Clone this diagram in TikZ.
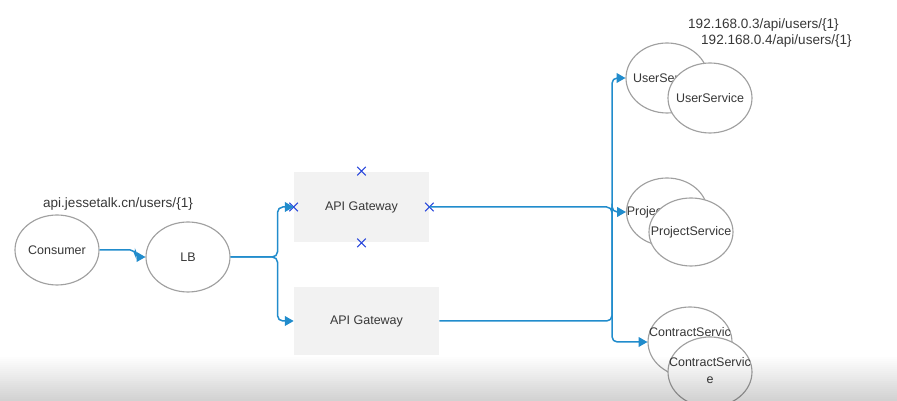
\documentclass[tikz,border=0pt]{standalone}
\usepackage{fontspec}
\setmainfont{Liberation Sans}
\usetikzlibrary{shapes.geometric,shapes.misc,arrows.meta}
\definecolor{linkblue}{RGB}{33,140,204}
\definecolor{rimgray}{RGB}{160,160,160}
\definecolor{boxgray}{RGB}{242,242,242}
\definecolor{txtgray}{RGB}{55,55,55}
\definecolor{handleblue}{RGB}{40,70,220}
% keep the ellipse from growing with its text
\newcommand\slim[1]{\makebox[0pt]{#1}}

\begin{document}
\begin{tikzpicture}[x=0.02cm,y=-0.02cm,
    every node/.style={font=\fontsize{7.1}{9.6}\selectfont,text=txtgray},
    svc/.style={ellipse,draw=rimgray,fill=white,line width=0.65pt,inner sep=0pt,minimum width=1.68cm,minimum height=1.4cm},
    gate/.style={rectangle,fill=boxgray,inner sep=0pt},
    link/.style={draw=linkblue,line width=0.85pt,rounded corners=3pt},
    tip/.style={-{Triangle[length=5pt,width=5.5pt]}},
    handle/.style={cross out,draw=handleblue,line width=0.65pt,minimum size=4.2pt,inner sep=0pt},
    url/.style={font=\fontsize{7.7}{9}\selectfont}]
    \useasboundingbox (0,0) rectangle (897,401);

    \node[svc] (con) at (57,250) {\slim{Consumer}};
    \node[svc] (lb) at (188,257) {\slim{LB}};
    \node[url] (req) at (118,204) {api.jessetalk.cn/users/\{1\}};

    \node[gate,minimum width=2.7cm,minimum height=1.42cm] (gw1) at (361.5,207) {API Gateway};
    \node[gate,minimum width=2.9cm,minimum height=1.38cm] (gw2) at (366.5,321) {API Gateway};
    \node[handle] (hn) at (gw1.north) {};
    \node[handle] (hs) at (gw1.south) {};
    \node[handle] (hw) at (gw1.west) {};
    \node[handle] (he) at (gw1.east) {};

    % services, back copy first
    \node[svc,minimum width=1.64cm] (usrA) at (667,78) {\slim{UserService}};
    \node[svc] (usrB) at (710,98) {\slim{UserService}};
    \node[svc,minimum width=1.62cm,minimum height=1.36cm] (prjA) at (667,212) {\slim{ProjectService}};
    \node[svc,minimum height=1.36cm] (prjB) at (691,232) {\slim{ProjectService}};
    \node[svc] (ctrA) at (690,342) {\slim{\begin{tabular}{@{}c@{}}ContractServic\\e\end{tabular}}};
    \node[svc] (ctrB) at (710,372) {\slim{\begin{tabular}{@{}c@{}}ContractServic\\e\end{tabular}}};

    \node[url,anchor=west] (ip1) at (682,25) {192.168.0.3/api/users/\{1\}};
    \node[url,anchor=west] (ip2) at (695,41) {192.168.0.4/api/users/\{1\}};

    \coordinate (bus) at (612,208);
    \draw[link,tip] (con.east) -- ++(36,0) |- (lb.west);
    \draw[link,tip] (lb.east) -- ++(47,0) |- (gw1.west);
    \draw[link,tip] (lb.east) -- ++(47,0) |- (gw2.west);
    \draw[link] (gw1.east) -- (gw1.east -| bus) -- (bus);
    \draw[link] (gw2.east) -| (bus);
    \draw[link,tip] (bus) |- (usrA.west);
    \draw[link,tip] (bus) |- (prjA.west);
    \draw[link,tip] (bus) |- (ctrA.west);

    % grey band over the bottom edge
    \foreach \k in {0,...,22}
        \fill[black,opacity=0.008*\k] (0,355+2*\k) rectangle (897,357+2*\k);
\end{tikzpicture}
\end{document}
